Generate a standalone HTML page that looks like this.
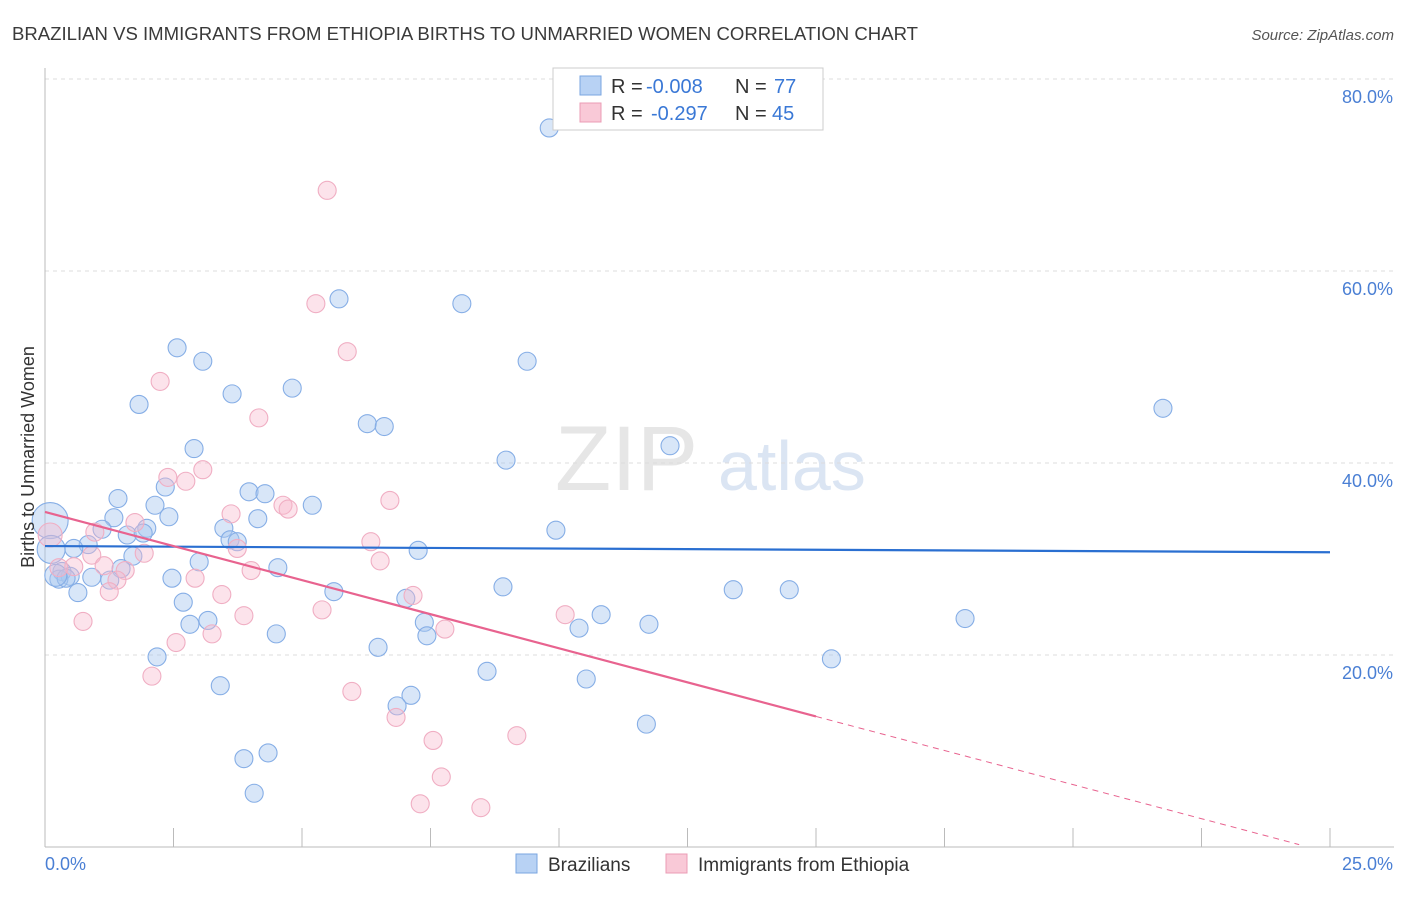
<!DOCTYPE html>
<html><head><meta charset="utf-8"><style>
body{margin:0;background:#fff;font-family:"Liberation Sans",sans-serif;}
svg text{font-family:"Liberation Sans",sans-serif;}
</style></head><body>
<svg id="chart" width="1406" height="892" viewBox="0 0 1406 892" xmlns="http://www.w3.org/2000/svg">
<text x="12" y="40" font-size="18" fill="#3a3a3a" textLength="906" lengthAdjust="spacingAndGlyphs">BRAZILIAN VS IMMIGRANTS FROM ETHIOPIA BIRTHS TO UNMARRIED WOMEN CORRELATION CHART</text>
<text x="1394" y="40" font-size="15" fill="#555" text-anchor="end" font-style="italic">Source: ZipAtlas.com</text>
<text x="555" y="490" font-size="92" fill="#e6e6e6" font-family="Liberation Serif">ZIP</text>
<text x="718" y="490" font-size="70" fill="#dbe5f3">atlas</text>
<g id="grid"></g>
<g id="axes"></g>
<g id="points"></g>
<g id="lines"></g>
<text transform="translate(34,457) rotate(-90)" font-size="18" fill="#333" text-anchor="middle">Births to Unmarried Women</text>
<g>
<rect x="553" y="68" width="270" height="62" fill="#fff" stroke="#ccc"/>
<rect x="580" y="76" width="21" height="19" fill="#b8d2f4" stroke="#7aa6e0"/>
<text x="611" y="93" font-size="20" fill="#333">R =</text>
<text x="646" y="93" font-size="20" fill="#3a78d6">-0.008</text>
<text x="735" y="93" font-size="20" fill="#333">N =</text>
<text x="774" y="93" font-size="20" fill="#3a78d6">77</text>
<rect x="580" y="103" width="21" height="19" fill="#f9c9d7" stroke="#eb9cb5"/>
<text x="611" y="120" font-size="20" fill="#333">R =</text>
<text x="651" y="120" font-size="20" fill="#3a78d6">-0.297</text>
<text x="735" y="120" font-size="20" fill="#333">N =</text>
<text x="772" y="120" font-size="20" fill="#3a78d6">45</text>
</g>
<g>
<rect x="516" y="854" width="21" height="19" fill="#b8d2f4" stroke="#7aa6e0"/>
<text x="548" y="871" font-size="19" fill="#333">Brazilians</text>
<rect x="666" y="854" width="21" height="19" fill="#f9c9d7" stroke="#eb9cb5"/>
<text x="698" y="871" font-size="19" fill="#333">Immigrants from Ethiopia</text>
</g>
</svg>
<script>
const yTicks=[20,40,60,80];
const yTickLabels=["20.0%","40.0%","60.0%","80.0%"];
const xTicks=[0,2.5,5,7.5,10,12.5,15,17.5,20,22.5,25];
const xEndLabels=["0.0%","25.0%"];
const blueX=[9.81,5.72,8.11,2.57,3.07,9.38,4.81,3.64,1.83,21.75,6.27,6.60,2.90,12.16,8.97,2.34,3.97,4.28,1.42,2.14,5.20,1.34,2.41,4.14,3.48,1.98,1.11,9.94,1.60,1.91,3.60,3.74,0.84,0.56,7.26,1.71,3.00,4.53,1.48,0.33,0.49,0.91,1.26,0.27,0.41,2.47,8.91,5.62,0.64,13.39,14.48,2.69,7.02,10.82,17.90,3.17,2.82,7.38,10.39,11.75,4.50,7.43,6.48,2.18,15.30,8.60,10.53,3.41,7.12,6.85,11.70,4.34,3.87,4.07,0.21,0.10,0.12];
const blueY=[74.9,57.1,56.6,52.0,50.6,50.6,47.8,47.2,46.1,45.7,44.1,43.8,41.5,41.8,40.3,37.5,37.0,36.8,36.3,35.6,35.6,34.3,34.4,34.2,33.2,33.2,33.1,33.0,32.5,32.7,32.0,31.8,31.5,31.1,30.9,30.3,29.7,29.1,29.0,28.7,28.2,28.1,27.8,27.9,28.0,28.0,27.1,26.6,26.5,26.8,26.8,25.5,25.9,24.2,23.8,23.6,23.2,23.4,22.8,23.2,22.2,22.0,20.8,19.8,19.6,18.3,17.5,16.8,15.8,14.7,12.8,9.8,9.2,5.6,28.3,34.0,31.0];
const blueSize=[9,9,9,9,9,9,9,9,9,9,9,9,9,9,9,9,9,9,9,9,9,9,9,9,9,9,9,9,9,9,9,9,9,9,9,9,9,9,9,9,9,9,9,9,9,9,9,9,9,9,9,9,9,9,9,9,9,9,9,9,9,9,9,9,9,9,9,9,9,9,9,9,9,9,11,18,14];
const pinkX=[5.49,5.27,5.88,2.24,4.16,2.39,3.07,2.74,6.71,4.63,4.73,3.62,0.97,1.75,1.93,3.74,6.34,0.91,6.52,4.01,1.56,0.56,1.15,0.27,1.40,2.92,1.25,3.44,7.16,5.39,3.87,0.74,10.12,3.25,7.78,2.55,2.08,5.97,6.83,7.55,9.18,7.71,7.30,8.48,0.10];
const pinkY=[68.4,56.6,51.6,48.5,44.7,38.5,39.3,38.1,36.1,35.6,35.2,34.7,32.8,33.8,30.6,31.1,31.8,30.4,29.8,28.8,28.8,29.2,29.3,29.1,27.8,28.0,26.6,26.3,26.2,24.7,24.1,23.5,24.2,22.2,22.7,21.3,17.8,16.2,13.5,11.1,11.6,7.3,4.5,4.1,32.5];
const pinkSize=[9,9,9,9,9,9,9,9,9,9,9,9,9,9,9,9,9,9,9,9,9,9,9,9,9,9,9,9,9,9,9,9,9,9,9,9,9,9,9,9,9,9,9,9,12];
const blueTrend=[31.35,30.7];
const pinkTrend=[34.9,-0.6];
const pinkSolidEnd=15;

const NS="http://www.w3.org/2000/svg";
const X0=45,X1=1330,Y0=847;
function xs(v){return X0+v/25*(X1-X0);}
function ys(v){return Y0-v*9.6;}
function mk(tag,attrs,parent){const e=document.createElementNS(NS,tag);for(const k in attrs)e.setAttribute(k,attrs[k]);parent.appendChild(e);return e;}
const grid=document.getElementById('grid'),axes=document.getElementById('axes'),pts=document.getElementById('points'),lines=document.getElementById('lines');
yTicks.forEach((t,i)=>{
  const l=mk('line',{x1:45,x2:1394,y1:ys(t),y2:ys(t),stroke:'#dcdcdc','stroke-dasharray':'4,4'},grid);
  
  
  const tx=mk('text',{x:1393,y:ys(t)+24,'font-size':18,fill:'#4a7fd4','text-anchor':'end'},axes);
  tx.textContent=yTickLabels[i];
  
  
});
const ax=mk('line',{x1:45,x2:45,y1:68,y2:847,stroke:'#bbb'},axes);


const bx=mk('line',{x1:45,x2:1394,y1:847,y2:847,stroke:'#bbb'},axes);


xTicks.forEach(t=>{
  const l=mk('line',{x1:xs(t),x2:xs(t),y1:828,y2:847,stroke:'#bbb'},axes);
  
  
});
const xl0=mk('text',{x:45,y:870,'font-size':18,fill:'#4a7fd4'},axes);xl0.textContent=xEndLabels[0];


const xl1=mk('text',{x:1393,y:870,'font-size':18,fill:'#4a7fd4','text-anchor':'end'},axes);xl1.textContent=xEndLabels[1];


blueX.forEach((v,i)=>{
  const c=mk('circle',{cx:xs(v),cy:ys(blueY[i]),r:blueSize[i],fill:'rgba(168,200,240,0.45)',stroke:'#86aee6','stroke-width':1.1},pts);
  
  
});
pinkX.forEach((v,i)=>{
  const c=mk('circle',{cx:xs(v),cy:ys(pinkY[i]),r:pinkSize[i],fill:'rgba(248,186,205,0.4)',stroke:'#f0aec3','stroke-width':1.1},pts);
  
  
});
const bl=mk('line',{x1:xs(0),y1:ys(blueTrend[0]),x2:xs(25),y2:ys(blueTrend[1]),stroke:'#2a6fd1','stroke-width':2.2},lines);


const pv=x=>pinkTrend[0]+(pinkTrend[1]-pinkTrend[0])*x/25;
const pl=mk('line',{x1:xs(0),y1:ys(pv(0)),x2:xs(pinkSolidEnd),y2:ys(pv(pinkSolidEnd)),stroke:'#e8638f','stroke-width':2.2},lines);


const pd=mk('line',{x1:xs(pinkSolidEnd),y1:ys(pv(pinkSolidEnd)),x2:xs(24.4),y2:ys(pv(24.4)),stroke:'#e8638f','stroke-width':1,'stroke-dasharray':'6,5'},lines);


</script>
</body></html>
